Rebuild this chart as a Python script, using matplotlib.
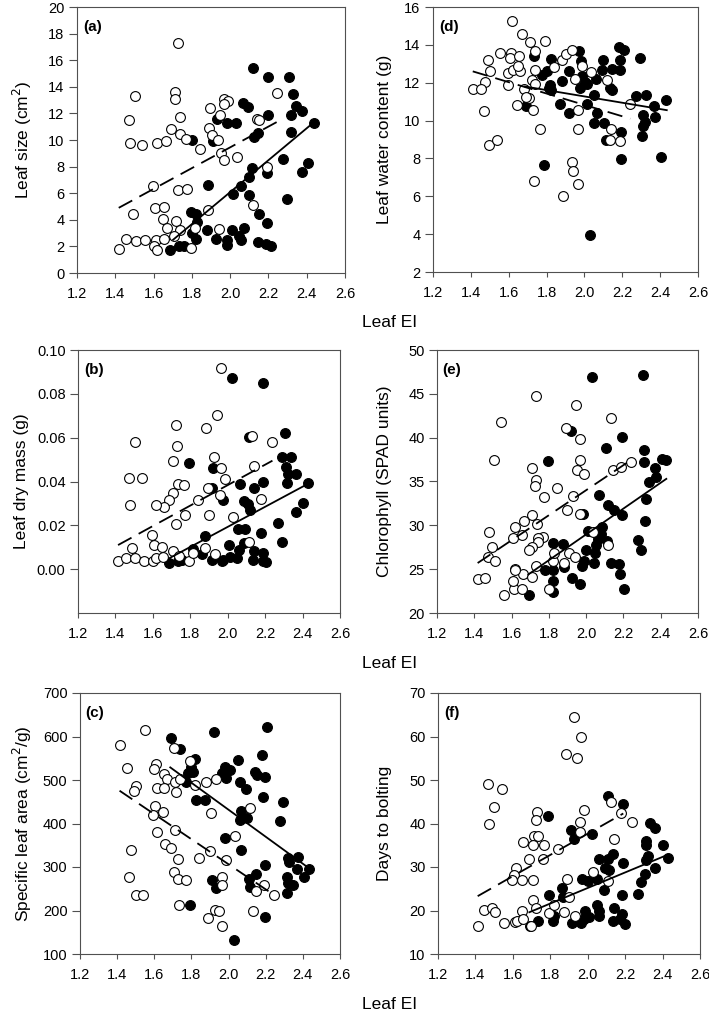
import numpy as np
import matplotlib
matplotlib.use("Agg")
import matplotlib.pyplot as plt
from matplotlib.ticker import FormatStrFormatter

plt.rcParams['font.family'] = ['Liberation Sans', 'DejaVu Sans']

# ---------------- data ----------------
# (a) Leaf size
a_open_x = [1.728,1.502,1.711,1.711,1.470,1.479,1.542,1.618,1.664,1.690,1.737,1.740,1.768,1.845,1.897,1.890,1.906,1.934,1.946,1.967,1.990,1.967,1.952,1.967,2.037,2.138,2.152,2.246,2.192,2.117,1.598,1.728,1.775,1.493,1.610,1.655,1.650,1.671,1.716,1.737,1.882,1.819,1.941,1.418,1.455,1.507,1.557,1.615,1.603,1.620,1.655,1.706,1.795]
a_open_y = [17.3,13.3,13.6,13.1,11.5,9.75,9.6,9.8,9.9,10.8,11.75,10.45,10.1,9.3,12.4,10.9,10.4,10.0,11.9,13.1,12.95,12.7,9.05,8.5,8.75,11.6,11.5,13.55,8.0,5.1,6.55,6.25,6.35,4.4,4.9,4.95,4.05,3.4,3.9,3.25,4.7,3.4,3.3,1.8,2.55,2.4,2.45,2.5,2.0,1.7,2.55,2.75,1.9]
a_fill_x = [2.121,2.199,2.307,2.326,2.068,2.094,2.344,2.373,2.317,2.196,1.932,1.981,2.033,2.440,2.147,2.124,2.316,1.800,1.911,2.278,2.405,2.373,2.190,2.112,2.098,2.056,1.885,2.013,2.098,2.297,2.150,2.190,1.798,1.824,1.828,1.800,1.821,1.877,2.072,2.009,2.047,2.059,1.925,1.981,1.986,2.143,2.187,2.211,1.688,1.734,1.760]
a_fill_y = [15.45,14.7,14.7,13.45,12.8,12.45,12.55,12.2,11.9,11.85,11.55,11.25,11.25,11.3,10.55,10.25,10.6,10.0,9.9,8.55,8.25,7.6,7.55,7.9,7.25,6.55,6.6,5.95,5.9,5.6,4.4,3.75,4.55,4.4,3.8,3.0,2.55,3.25,3.4,3.2,2.8,2.5,2.55,2.45,2.1,2.3,2.2,2.05,1.75,2.05,2.05]
a_fit_open_x, a_fit_open_y = [1.418, 2.25], [4.9, 11.4]
a_fit_fill_x, a_fit_fill_y = [1.702, 2.443], [2.5, 11.4]

# (d) Leaf water content
d_open_x = [1.616,1.670,1.712,1.739,1.791,1.554,1.611,1.607,1.654,1.489,1.502,1.596,1.625,1.660,1.651,1.739,1.475,1.410,1.453,1.598,1.681,1.721,1.739,1.709,1.691,1.642,1.726,1.472,1.498,1.540,1.765,1.840,1.882,1.900,1.935,1.949,1.988,2.033,1.967,1.967,1.932,1.940,1.968,1.888,1.733,2.119,2.142,2.133,2.186,2.242]
d_open_y = [15.25,14.6,14.15,13.7,14.2,13.55,13.55,13.3,13.4,13.2,12.6,12.5,12.65,12.6,12.9,12.65,12.05,11.65,11.65,11.9,11.65,12.15,11.95,11.2,11.25,10.8,10.55,10.5,8.7,8.95,9.55,12.85,13.2,13.5,13.75,12.2,12.9,12.55,10.55,9.55,7.8,7.35,6.65,6.0,6.8,12.15,9.55,8.95,8.9,10.9]
d_fill_x = [1.823,1.733,1.970,1.981,1.985,2.002,1.979,2.016,1.882,1.919,1.777,1.800,1.818,1.814,1.826,2.098,2.095,2.063,2.147,2.186,2.186,2.182,2.207,2.133,2.147,2.049,2.067,2.011,1.870,1.917,1.689,2.049,2.105,2.112,2.191,2.195,2.291,2.274,2.323,2.367,2.309,2.321,2.309,2.305,2.374,2.432,2.405,1.788,2.028]
d_fill_y = [13.25,13.4,13.7,13.15,12.35,12.05,11.7,11.95,12.1,12.6,12.4,12.6,11.9,11.7,11.6,13.2,12.65,12.2,12.7,12.65,13.2,13.9,13.75,11.7,11.6,11.35,10.4,10.9,10.85,10.4,10.75,9.85,9.85,8.95,9.4,7.95,13.3,11.3,11.35,10.75,10.3,9.9,9.7,9.2,10.2,11.1,8.1,7.65,3.95]
d_fit_open_x, d_fit_open_y = [1.41, 2.242], [12.6, 10.1]
d_fit_fill_x, d_fit_fill_y = [1.686, 2.435], [11.8, 10.55]

# (b) Leaf dry mass
b_open_x = [1.965,1.944,1.886,1.723,1.730,1.502,1.470,1.541,1.476,1.705,1.732,1.767,1.709,1.686,1.661,1.617,1.771,1.726,1.841,1.894,1.900,1.926,1.965,1.983,1.961,2.027,2.129,2.142,2.180,2.239,2.112,1.598,1.608,1.647,1.488,1.412,1.456,1.506,1.553,1.603,1.617,1.656,1.709,1.741,1.792,1.815,1.877,1.933]
b_open_y = [0.0917,0.0702,0.0645,0.0657,0.0563,0.0578,0.0417,0.0417,0.0293,0.0492,0.0390,0.0383,0.0347,0.0317,0.0282,0.0293,0.0245,0.0207,0.0317,0.0372,0.0245,0.0512,0.0462,0.0410,0.0338,0.0237,0.0607,0.0470,0.0322,0.0582,0.0122,0.0155,0.0110,0.0099,0.0098,0.0035,0.0050,0.0050,0.0038,0.0038,0.0050,0.0057,0.0084,0.0060,0.0038,0.0075,0.0098,0.0069]
b_fill_x = [2.023,2.191,2.112,2.305,1.794,1.924,2.288,2.336,2.312,2.320,2.363,2.315,2.430,2.189,2.142,2.067,2.089,2.110,2.119,1.975,1.916,2.366,2.403,2.271,2.288,2.057,2.092,2.180,1.877,2.009,2.089,2.062,2.142,2.186,1.864,1.815,1.758,1.688,1.732,1.917,1.970,2.013,2.050,2.136,2.186,2.207,1.977]
b_fill_y = [0.0870,0.0848,0.0605,0.0620,0.0485,0.0462,0.0510,0.0512,0.0465,0.0432,0.0432,0.0392,0.0392,0.0399,0.0369,0.0387,0.0309,0.0297,0.0270,0.0315,0.0372,0.0263,0.0300,0.0210,0.0125,0.0182,0.0185,0.0167,0.0150,0.0112,0.0120,0.0087,0.0084,0.0075,0.0068,0.0090,0.0042,0.0027,0.0035,0.0042,0.0038,0.0057,0.0050,0.0042,0.0039,0.0033,0.0042]
b_fit_open_x, b_fit_open_y = [1.414, 2.239], [0.011, 0.0495]
b_fit_fill_x, b_fit_fill_y = [1.688, 2.43], [0.005, 0.039]

# (e) Chlorophyll
e_open_x = [1.733,1.545,1.506,1.947,1.892,1.968,2.135,1.968,1.951,1.991,2.144,2.188,2.241,1.712,1.733,1.726,1.774,1.844,1.928,1.896,1.968,1.712,1.739,1.665,1.620,1.656,1.608,1.769,1.740,1.742,1.709,1.691,1.478,1.495,1.474,1.513,1.620,1.659,1.708,1.730,1.418,1.460,1.557,1.612,1.606,1.656,1.617,1.800,1.823,1.880,1.906,1.938,1.826,2.118,2.035]
e_open_y = [44.7,41.8,37.4,43.75,41.15,39.85,42.3,37.5,36.3,35.9,36.3,36.7,37.25,36.55,35.2,34.45,33.2,34.3,33.3,31.8,31.3,31.2,30.15,30.45,29.85,28.9,28.6,28.65,28.55,28.1,27.5,27.2,29.25,27.5,26.4,25.95,25.0,24.4,24.15,25.4,23.9,24.0,22.1,22.75,23.6,22.75,24.9,22.75,25.95,25.75,26.8,26.4,26.9,27.7,29.2]
e_fill_x = [2.031,2.307,1.920,2.109,2.194,1.797,2.312,2.312,2.368,2.405,2.426,2.373,2.338,2.321,2.317,2.068,2.117,2.147,2.191,1.982,2.012,2.085,2.081,2.063,2.113,2.051,2.001,2.049,2.040,2.134,2.178,2.182,2.203,2.277,2.294,1.823,1.875,1.986,1.980,1.880,1.777,1.823,1.823,1.823,1.924,1.968,1.695]
e_fill_y = [46.9,47.1,40.75,38.85,40.1,37.3,38.6,37.25,36.55,37.6,37.4,35.5,34.95,33.0,30.55,33.5,32.35,31.8,31.2,31.3,29.4,29.8,29.0,28.4,28.2,27.7,27.2,26.8,25.65,25.65,25.55,24.4,22.75,28.3,27.2,28.0,27.85,25.95,25.35,25.2,24.85,24.85,23.6,22.35,24.0,23.35,22.1]
e_fit_open_x, e_fit_open_y = [1.418, 2.241], [25.7, 37.45]
e_fit_fill_x, e_fit_fill_y = [1.69, 2.43], [24.4, 35.3]

# (c) Specific leaf area
c_open_x = [1.551,1.413,1.452,1.503,1.490,1.610,1.598,1.652,1.668,1.616,1.650,1.713,1.718,1.736,1.704,1.794,1.817,1.880,1.934,1.605,1.647,1.592,1.616,1.655,1.688,1.709,1.727,1.704,1.727,1.772,1.733,1.472,1.466,1.499,1.538,1.841,1.898,1.904,2.033,1.985,1.967,1.967,1.927,1.947,1.889,1.967,2.118,2.146,2.191,2.132,2.243]
c_open_y = [613.8,580.8,526.9,486.9,475.4,536,525.4,513,501.5,482.3,480.8,494.6,471.5,501.5,573,543.8,488.5,496,501.5,440.8,426.9,419.2,380.8,353.8,343.8,386,319.2,288.5,273,269.2,213,340,276.9,236.2,236.2,320.8,336.9,424.6,370.8,316.9,276.9,257.7,201.5,200,183,165.4,436.2,244.6,257.7,198.5,234.6]
c_fill_x = [1.691,1.736,1.920,2.208,2.182,2.051,1.821,1.799,1.808,1.781,1.772,1.823,1.871,1.983,2.006,1.985,1.967,2.060,2.096,2.141,2.154,2.195,2.186,2.294,2.276,2.069,2.060,2.100,2.069,1.979,2.321,2.375,2.324,2.369,2.434,2.407,2.315,2.319,2.347,2.312,2.195,2.146,2.108,2.114,1.913,1.934,1.790,2.195,2.029]
c_fill_y = [597.7,571.5,610,621.5,557.7,546,548.5,530.8,519,516.9,496.2,453.8,453.8,530.8,523,503.8,515.4,494.6,479.2,519.2,511.5,507.7,461.5,448.5,405.4,428.5,407.7,411.5,338.5,367.7,320.8,323,311.5,296.2,294.6,276.9,276.9,263.8,257.7,240,303.8,284.6,273,253.8,269.2,251.5,213,184.6,132.3]
c_fit_open_x, c_fit_open_y = [1.413, 2.243], [475.4, 236.2]
c_fit_fill_x, c_fit_fill_y = [1.686, 2.429], [529, 298.5]

# (f) Days to bolting
f_open_x = [1.925,1.964,1.884,1.941,1.466,1.542,1.498,1.471,1.729,1.726,1.715,1.733,1.706,1.656,1.768,1.759,1.688,1.840,1.982,1.960,1.959,2.124,2.178,2.235,2.138,1.617,1.608,1.596,1.647,1.706,1.889,1.444,1.489,1.507,1.412,1.551,1.610,1.623,1.647,1.656,1.697,1.710,1.724,1.791,1.818,1.875,1.898,1.932,2.026,2.106]
f_open_y = [64.4,59.8,56,55,49,47.85,43.85,40,42.7,40.8,37.15,37.1,35.15,35.8,35.15,31.9,31.8,34.2,43.1,40.4,38.1,45,42.5,40.4,36.5,29.8,28.1,26.9,27.1,27.1,27.3,20.2,20.5,19.6,16.4,17.1,17.3,17.7,19.8,18.1,16.5,22.3,20.6,19.4,21.2,19.6,23.2,18.85,28.85,26.7]
f_fill_x = [2.110,2.186,1.790,1.911,1.925,2.023,2.334,2.359,2.311,2.311,2.400,2.311,2.320,2.427,2.361,2.307,2.284,2.267,2.062,2.137,2.106,2.093,2.116,2.186,1.969,1.999,2.048,2.089,2.181,1.863,1.870,1.791,1.822,1.813,1.733,1.692,1.916,1.964,1.987,1.978,2.009,2.048,2.058,2.058,2.138,2.181,2.136,2.199,2.174]
f_fill_y = [46.3,44.4,41.8,38.5,36.5,37.7,40.2,39,35.9,35,35,31.5,32.5,32.1,29.8,28.5,26.5,23.7,31.8,33.1,31.8,29.8,29.2,30.9,27.3,26.7,27.3,24.8,23.6,25.2,23.1,23.5,18.85,17.7,17.7,16.5,17.15,17.15,20,18.1,18.5,21.2,20,18.7,20.5,19.2,17.7,16.9,18.1]
f_fit_open_x, f_fit_open_y = [1.412, 2.19], [23.3, 42.3]
f_fit_fill_x, f_fit_fill_y = [1.688, 2.421], [19.6, 32.7]

x_ticks = [1.2, 1.4, 1.6, 1.8, 2.0, 2.2, 2.4, 2.6]
x_label = "Leaf EI"

# ---------------- layout ----------------
W, H = 709, 1013
fig = plt.figure(figsize=(W / 100, H / 100), dpi=100)
SPINE = '#505050'

panels = [
    ('(a)', (77, 7, 345, 273), 'Leaf size (cm$^2$)', (0, 20), np.arange(0, 21, 2), '%d',
     a_open_x, a_open_y, a_fill_x, a_fill_y, a_fit_open_x, a_fit_open_y, a_fit_fill_x, a_fit_fill_y, 22),
    ('(d)', (433, 7, 698, 272), 'Leaf water content (g)', (2, 16), np.arange(2, 17, 2), '%d',
     d_open_x, d_open_y, d_fill_x, d_fill_y, d_fit_open_x, d_fit_open_y, d_fit_fill_x, d_fit_fill_y, 384),
    ('(b)', (78, 350, 340, 613), 'Leaf dry mass (g)', (-0.02, 0.10), np.arange(0, 0.101, 0.02), '%.2f',
     b_open_x, b_open_y, b_fill_x, b_fill_y, b_fit_open_x, b_fit_open_y, b_fit_fill_x, b_fit_fill_y, 22),
    ('(e)', (437, 350, 698, 613), 'Chlorophyll (SPAD units)', (20, 50), np.arange(20, 51, 5), '%d',
     e_open_x, e_open_y, e_fill_x, e_fill_y, e_fit_open_x, e_fit_open_y, e_fit_fill_x, e_fit_fill_y, 384),
    ('(c)', (80, 693, 340, 954), 'Specific leaf area (cm$^2$/g)', (100, 700), np.arange(100, 701, 100), '%d',
     c_open_x, c_open_y, c_fill_x, c_fill_y, c_fit_open_x, c_fit_open_y, c_fit_fill_x, c_fit_fill_y, 22),
    ('(f)', (438, 693, 700, 954), 'Days to bolting', (10, 70), np.arange(10, 71, 10), '%d',
     f_open_x, f_open_y, f_fill_x, f_fill_y, f_fit_open_x, f_fit_open_y, f_fit_fill_x, f_fit_fill_y, 384),
]

for (lab, (l, t, r, b), ylab, ylim, yticks, yfmt,
     ox, oy, fx, fy, fox, foy, ffx, ffy, ylab_x) in panels:
    ax = fig.add_axes([l / W, 1 - b / H, (r - l) / W, (b - t) / H])
    ax.scatter(fx, fy, s=50, facecolors='black', edgecolors='black', linewidths=0.8, zorder=2)
    ax.scatter(ox, oy, s=50, facecolors='white', edgecolors='black', linewidths=0.8, zorder=3)
    ax.plot(fox, foy, color='black', lw=1.3, dashes=(8.5, 4.5), zorder=4)
    ax.plot(ffx, ffy, color='black', lw=1.3, zorder=4)
    ax.set_xlim(1.2, 2.6)
    ax.set_ylim(*ylim)
    ax.set_xticks(x_ticks)
    ax.set_yticks(yticks)
    ax.xaxis.set_major_formatter(FormatStrFormatter('%.1f'))
    ax.yaxis.set_major_formatter(FormatStrFormatter(yfmt))
    for sp in ax.spines.values():
        sp.set_color(SPINE)
        sp.set_linewidth(0.8)
    ax.tick_params(axis='y', length=5.5, width=0.8, pad=3.5, labelsize=10.5, color=SPINE)
    ax.tick_params(axis='x', length=3.5, width=0.8, pad=6.5, labelsize=10.5, color=SPINE)
    ax.text(0.022, 0.925, lab, transform=ax.transAxes, fontsize=11, fontweight='bold',
            ha='left', va='center')
    ax.set_ylabel(ylab, fontsize=12.5, va='center')
    ax.yaxis.set_label_coords((ylab_x - l) / (r - l), 0.5)

for yrow in (322, 663, 1004):
    fig.text(390 / W, 1 - yrow / H, x_label, fontsize=12.5, ha='center', va='center')

fig.savefig('out.png', dpi=100)
